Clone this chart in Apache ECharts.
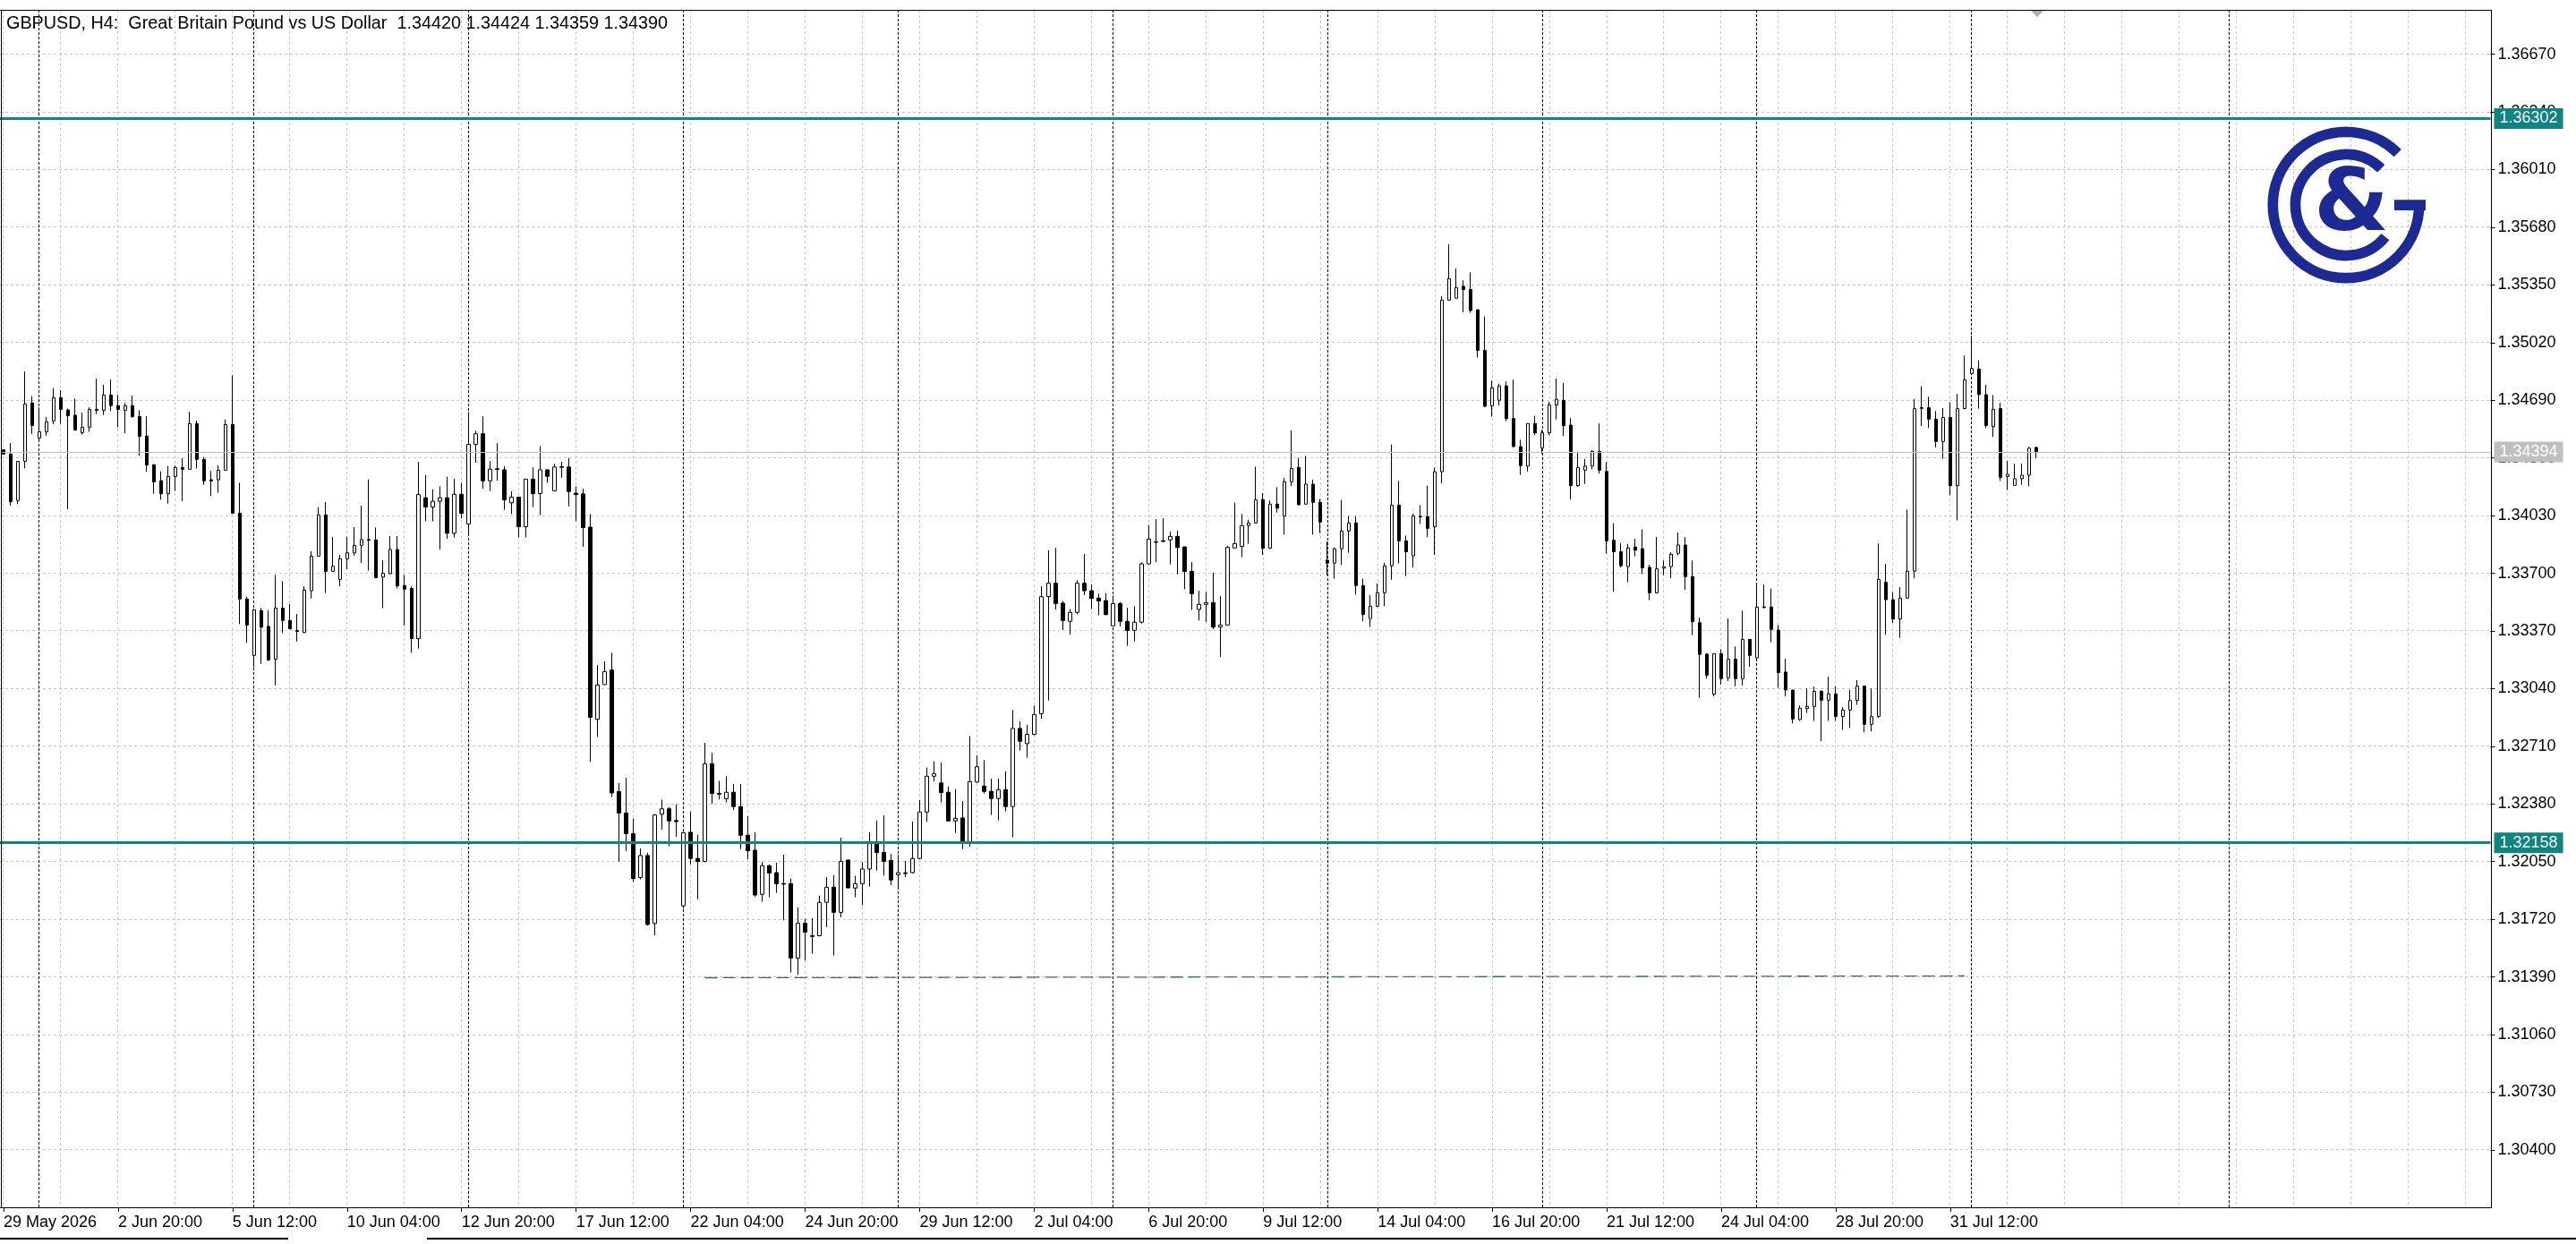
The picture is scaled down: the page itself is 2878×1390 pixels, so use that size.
<!DOCTYPE html>
<html><head><meta charset="utf-8">
<script src="https://cdn.jsdelivr.net/npm/echarts@6.0.0/dist/echarts.min.js"></script>
<style>html,body{margin:0;padding:0;background:#fff;}#chart{width:2878px;height:1390px;}</style>
</head><body><div id="chart"></div>
<script>
// ---- H4 candles (bar 0 = 29 May 2026 04:00) ----
const opens = [1.34406,1.34382,1.34116,1.34341,1.34674,1.34474,1.34510,1.34572,1.34705,1.34635,1.34604,1.34505,1.34536,1.34638,1.34633,1.34720,1.34659,1.34633,1.34659,1.34597,1.34485,1.34321,1.34230,1.34155,1.34254,1.34305,1.34295,1.34556,1.34352,1.34235,1.34235,1.34290,1.34551,1.34044,1.33553,1.33230,1.33486,1.33396,1.33208,1.33501,1.33430,1.33372,1.33361,1.33600,1.33798,1.34034,1.33711,1.33665,1.33783,1.33816,1.33860,1.33893,1.33891,1.33678,1.33698,1.33836,1.33630,1.33613,1.33326,1.34132,1.34079,1.34112,1.34132,1.33929,1.34152,1.33982,1.34438,1.34498,1.34229,1.34298,1.34292,1.34103,1.34136,1.33966,1.34239,1.34156,1.34292,1.34172,1.34310,1.34308,1.34158,1.34154,1.33964,1.32864,1.33063,1.33146,1.32451,1.32328,1.32210,1.31959,1.32085,1.31696,1.32321,1.32352,1.32285,1.31797,1.32218,1.32068,1.32051,1.32610,1.32441,1.32409,1.32447,1.32365,1.32201,1.32115,1.31863,1.32027,1.31987,1.31924,1.31924,1.31498,1.31697,1.31626,1.31626,1.31817,1.31904,1.31760,1.32059,1.31899,1.31923,1.32008,1.32153,1.32103,1.32056,1.31975,1.31986,1.31987,1.32068,1.32334,1.32539,1.32500,1.32447,1.32283,1.32300,1.32162,1.32505,1.32482,1.32452,1.32411,1.32462,1.32365,1.32812,1.32725,1.32778,1.32897,1.33566,1.33643,1.33529,1.33425,1.33476,1.33643,1.33600,1.33558,1.33544,1.33399,1.33527,1.33425,1.33373,1.33420,1.33754,1.33880,1.33886,1.33891,1.33911,1.33851,1.33711,1.33493,1.33522,1.33532,1.33392,1.33404,1.33845,1.33853,1.33973,1.33988,1.34121,1.33843,1.34096,1.34027,1.34224,1.34306,1.34096,1.34210,1.34106,1.33775,1.33758,1.33840,1.33942,1.33988,1.33630,1.33441,1.33512,1.33588,1.33743,1.34090,1.33886,1.33800,1.34026,1.34024,1.33966,1.34281,1.35263,1.35274,1.35342,1.35324,1.35208,1.34975,1.34658,1.34690,1.34772,1.34585,1.34425,1.34313,1.34557,1.34418,1.34503,1.34663,1.34690,1.34548,1.34201,1.34290,1.34313,1.34398,1.34283,1.33889,1.33823,1.33738,1.33850,1.33841,1.33734,1.33588,1.33729,1.33738,1.33814,1.33862,1.33681,1.33417,1.33237,1.33008,1.33239,1.33102,1.33208,1.33097,1.33322,1.33216,1.33508,1.33507,1.33375,1.33135,1.33032,1.32863,1.32926,1.32938,1.33025,1.32974,1.33010,1.32880,1.32918,1.32972,1.33054,1.32836,1.32880,1.33648,1.33549,1.33438,1.33558,1.33712,1.34647,1.34647,1.34582,1.34454,1.34591,1.34201,1.34642,1.34843,1.34869,1.34722,1.34539,1.34642,1.34254,1.34203,1.34241,1.34261,1.34420];
const highs = [1.34410,1.34444,1.34343,1.34855,1.34713,1.34649,1.34594,1.34760,1.34748,1.34642,1.34700,1.34620,1.34649,1.34814,1.34778,1.34809,1.34720,1.34676,1.34717,1.34633,1.34599,1.34324,1.34283,1.34314,1.34317,1.34358,1.34625,1.34573,1.34365,1.34287,1.34317,1.34580,1.34833,1.34218,1.33566,1.33498,1.33501,1.33488,1.33691,1.33655,1.33524,1.33467,1.33626,1.33826,1.34078,1.34107,1.33908,1.33805,1.33908,1.33964,1.34087,1.34237,1.33962,1.33775,1.33913,1.33913,1.33690,1.33624,1.34338,1.34261,1.34180,1.34197,1.34253,1.34241,1.34217,1.34622,1.34515,1.34598,1.34342,1.34444,1.34312,1.34168,1.34136,1.34241,1.34306,1.34427,1.34296,1.34326,1.34338,1.34359,1.34197,1.34184,1.34039,1.33174,1.33196,1.33245,1.32500,1.32530,1.32297,1.32125,1.32101,1.32321,1.32404,1.32362,1.32378,1.32220,1.32337,1.32204,1.32730,1.32674,1.32513,1.32539,1.32494,1.32494,1.32310,1.32218,1.32047,1.32034,1.32044,1.32090,1.31953,1.31788,1.31723,1.31726,1.31856,1.31962,1.31972,1.32187,1.32064,1.31969,1.32047,1.32218,1.32286,1.32315,1.32095,1.32088,1.32054,1.32279,1.32402,1.32588,1.32624,1.32617,1.32481,1.32465,1.32397,1.32768,1.32658,1.32631,1.32525,1.32525,1.32566,1.32918,1.32853,1.32832,1.32943,1.33626,1.33831,1.33845,1.33541,1.33495,1.33660,1.33810,1.33635,1.33583,1.33587,1.33573,1.33536,1.33503,1.33512,1.33763,1.33976,1.34010,1.34015,1.33938,1.33945,1.33851,1.33763,1.33600,1.33592,1.33703,1.33570,1.33857,1.34104,1.34039,1.34007,1.34309,1.34159,1.34116,1.34193,1.34246,1.34517,1.34360,1.34372,1.34236,1.34125,1.33882,1.33848,1.34119,1.34027,1.34027,1.33669,1.33574,1.33642,1.33761,1.34437,1.34229,1.33916,1.34040,1.34090,1.34201,1.34304,1.35286,1.35582,1.35443,1.35376,1.35422,1.35208,1.35169,1.34802,1.34785,1.34797,1.34808,1.34464,1.34557,1.34601,1.34521,1.34681,1.34815,1.34788,1.34589,1.34396,1.34354,1.34405,1.34557,1.34336,1.33987,1.33871,1.33868,1.33898,1.33951,1.33749,1.33907,1.33773,1.33820,1.33934,1.33907,1.33773,1.33446,1.33242,1.33242,1.33264,1.33442,1.33281,1.33486,1.33322,1.33635,1.33635,1.33612,1.33404,1.33211,1.33032,1.32943,1.33041,1.33051,1.33029,1.33109,1.33054,1.32935,1.33032,1.33088,1.33054,1.33041,1.33870,1.33754,1.33592,1.33621,1.34065,1.34696,1.34770,1.34710,1.34628,1.34645,1.34679,1.34727,1.34946,1.35060,1.34918,1.34778,1.34719,1.34676,1.34343,1.34326,1.34326,1.34423,1.34424];
const lows = [1.34379,1.34087,1.34095,1.34300,1.34497,1.34451,1.34488,1.34553,1.34556,1.34066,1.34519,1.34493,1.34510,1.34611,1.34606,1.34628,1.34536,1.34502,1.34590,1.34372,1.34280,1.34155,1.34121,1.34099,1.34171,1.34113,1.34295,1.34299,1.34206,1.34142,1.34160,1.34287,1.34044,1.33409,1.33302,1.33162,1.33182,1.33199,1.33059,1.33358,1.33379,1.33310,1.33358,1.33556,1.33795,1.33587,1.33711,1.33626,1.33723,1.33800,1.33759,1.33715,1.33674,1.33500,1.33694,1.33613,1.33401,1.33245,1.33269,1.33998,1.33998,1.33836,1.33897,1.33905,1.34014,1.33927,1.34332,1.34184,1.34170,1.34229,1.34063,1.34039,1.33907,1.33905,1.34079,1.34033,1.34217,1.34168,1.34245,1.34083,1.33998,1.33852,1.32621,1.32763,1.33063,1.32419,1.32050,1.32111,1.31933,1.31949,1.31684,1.31629,1.32232,1.32139,1.32192,1.31781,1.32035,1.31834,1.32047,1.32380,1.32406,1.32389,1.32344,1.32122,1.32064,1.31847,1.31820,1.31846,1.31871,1.31714,1.31416,1.31402,1.31484,1.31523,1.31622,1.31675,1.31513,1.31731,1.31897,1.31846,1.31800,1.31907,1.31999,1.31970,1.31916,1.31902,1.31962,1.31982,1.32064,1.32278,1.32508,1.32389,1.32283,1.32214,1.32122,1.32136,1.32501,1.32440,1.32317,1.32286,1.32337,1.32189,1.32686,1.32645,1.32773,1.32867,1.32972,1.33493,1.33375,1.33348,1.33464,1.33575,1.33495,1.33459,1.33459,1.33396,1.33396,1.33285,1.33310,1.33413,1.33751,1.33763,1.33879,1.33751,1.33694,1.33609,1.33490,1.33430,1.33421,1.33379,1.33222,1.33401,1.33843,1.33792,1.33869,1.33985,1.33805,1.33840,1.34048,1.33921,1.34198,1.34089,1.34092,1.33921,1.33930,1.33689,1.33669,1.33746,1.33817,1.33578,1.33425,1.33393,1.33506,1.33512,1.33663,1.33756,1.33684,1.33734,1.33983,1.33907,1.33805,1.34215,1.35261,1.35272,1.35194,1.35190,1.34934,1.34651,1.34596,1.34660,1.34571,1.34420,1.34263,1.34283,1.34491,1.34384,1.34491,1.34580,1.34485,1.34122,1.34194,1.34211,1.34295,1.34272,1.33814,1.33595,1.33734,1.33649,1.33797,1.33695,1.33547,1.33585,1.33690,1.33672,1.33802,1.33606,1.33346,1.32987,1.33097,1.32995,1.33063,1.33083,1.33054,1.33058,1.33165,1.33213,1.33498,1.33305,1.33046,1.32995,1.32841,1.32855,1.32901,1.32855,1.32739,1.32855,1.32855,1.32803,1.32815,1.32947,1.32790,1.32795,1.32872,1.33348,1.33416,1.33331,1.33554,1.33672,1.34543,1.34531,1.34420,1.34355,1.34147,1.34002,1.34638,1.34838,1.34642,1.34531,1.34480,1.34229,1.34177,1.34203,1.34207,1.34198,1.34359];
const closes = [1.34382,1.34109,1.34340,1.34669,1.34546,1.34510,1.34567,1.34705,1.34638,1.34602,1.34520,1.34536,1.34638,1.34633,1.34720,1.34659,1.34638,1.34659,1.34597,1.34483,1.34319,1.34223,1.34155,1.34254,1.34305,1.34295,1.34556,1.34352,1.34229,1.34229,1.34290,1.34551,1.34044,1.33553,1.33404,1.33491,1.33392,1.33204,1.33501,1.33430,1.33382,1.33367,1.33604,1.33798,1.34034,1.33711,1.33740,1.33783,1.33817,1.33860,1.33893,1.33889,1.33674,1.33700,1.33836,1.33628,1.33609,1.33326,1.34150,1.34079,1.34112,1.34132,1.33929,1.34152,1.34043,1.34438,1.34498,1.34229,1.34296,1.34294,1.34120,1.34136,1.33966,1.34239,1.34156,1.34292,1.34255,1.34308,1.34306,1.34168,1.34150,1.33962,1.32876,1.33061,1.33137,1.32443,1.32328,1.32210,1.31953,1.32085,1.31690,1.32317,1.32352,1.32283,1.32279,1.32216,1.32068,1.32051,1.32610,1.32440,1.32436,1.32447,1.32365,1.32201,1.32112,1.31859,1.32027,1.31984,1.31923,1.31921,1.31498,1.31697,1.31646,1.31622,1.31817,1.31904,1.31760,1.32052,1.31900,1.31923,1.32008,1.32153,1.32102,1.32052,1.31945,1.31987,1.31982,1.32068,1.32334,1.32539,1.32554,1.32445,1.32283,1.32298,1.32162,1.32508,1.32593,1.32452,1.32411,1.32462,1.32365,1.32812,1.32739,1.32778,1.32892,1.33566,1.33643,1.33527,1.33430,1.33476,1.33643,1.33600,1.33556,1.33541,1.33464,1.33527,1.33425,1.33373,1.33420,1.33754,1.33896,1.33877,1.33882,1.33911,1.33848,1.33710,1.33583,1.33522,1.33532,1.33392,1.33404,1.33848,1.33870,1.33973,1.33988,1.34121,1.33843,1.34096,1.34073,1.34224,1.34300,1.34092,1.34210,1.34106,1.33993,1.33758,1.33840,1.33942,1.33988,1.33630,1.33464,1.33512,1.33588,1.33743,1.34090,1.33886,1.33823,1.34028,1.34023,1.33957,1.34281,1.35263,1.35386,1.35335,1.35324,1.35203,1.34975,1.34655,1.34761,1.34772,1.34585,1.34425,1.34316,1.34557,1.34503,1.34503,1.34663,1.34696,1.34544,1.34201,1.34304,1.34313,1.34398,1.34290,1.33886,1.33823,1.33743,1.33845,1.33832,1.33731,1.33588,1.33725,1.33738,1.33809,1.33862,1.33681,1.33423,1.33236,1.33117,1.33239,1.33097,1.33208,1.33097,1.33322,1.33230,1.33507,1.33505,1.33379,1.33131,1.33032,1.32866,1.32928,1.32938,1.33025,1.32974,1.33010,1.32880,1.32918,1.32972,1.33054,1.32836,1.32880,1.33665,1.33549,1.33438,1.33558,1.33712,1.34642,1.34644,1.34582,1.34454,1.34591,1.34201,1.34642,1.34807,1.34872,1.34722,1.34545,1.34638,1.34249,1.34266,1.34241,1.34261,1.34416,1.34390];

// ---- axis texts ----
const priceTicks = [1.36670,1.36340,1.36010,1.35680,1.35350,1.35020,1.34690,1.34360,1.34030,1.33700,1.33370,1.33040,1.32710,1.32380,1.32050,1.31720,1.31390,1.31060,1.30730,1.30400];
const timeLabels = ['29 May 2026','2 Jun 20:00','5 Jun 12:00','10 Jun 04:00','12 Jun 20:00','17 Jun 12:00','22 Jun 04:00','24 Jun 20:00','29 Jun 12:00','2 Jul 04:00','6 Jul 20:00','9 Jul 12:00','14 Jul 04:00','16 Jul 20:00','21 Jul 12:00','24 Jul 04:00','28 Jul 20:00','31 Jul 12:00'];
const titleText = 'GBPUSD, H4:  Great Britain Pound vs US Dollar  1.34420 1.34424 1.34359 1.34390';

// ---- drawn levels ----
const levelLines = [1.36302, 1.32158];
const bidPrice = 1.34394;
const trendStart = [98, 1.31387];
const trendEnd = [274, 1.31395];
const weekStartBars = [5,35,65,95,125,155,185,215,245,275,311];

// ---- layout constants ----
const N_SLOTS = 348;        // 285 bars + empty chart shift area
const LABEL_EVERY = 16;
const GRID_EVERY = 8;
const YMIN = 1.300668, YMAX = 1.369240;
const TEAL = '#0e8580', NAVY = '#1e2a94', GRIDC = '#c8c8c8';
const FONT = 'Liberation Sans';

const cats = Array.from({length: N_SLOTS}, (_, i) => String(i));
const candles = opens.map((o, i) => [o, closes[i], lows[i], highs[i]]);
const gridBars = [];
for (let b = 0; b < N_SLOTS; b += GRID_EVERY) gridBars.push(b);

function crisp(v) { return Math.round(v - 0.5) + 0.5; }

function hLineItem(color, dash) {
  return function (params, api) {
    const cs = params.coordSys;
    const y = crisp(api.coord([0, api.value(1)])[1]);
    return {type: 'line', shape: {x1: cs.x, y1: y, x2: cs.x + cs.width, y2: y},
      style: {stroke: color, lineWidth: 1, lineDash: dash}};
  };
}
function vLineItem(color, dash) {
  return function (params, api) {
    const cs = params.coordSys;
    const x = crisp(api.coord([api.value(0), YMIN])[0]);
    return {type: 'line', shape: {x1: x, y1: cs.y, x2: x, y2: cs.y + cs.height},
      style: {stroke: color, lineWidth: 1, lineDash: dash}};
  };
}
function trendItem(params, api) {
  const a = api.coord([api.value(0), api.value(1)]);
  const b = api.coord([api.value(2), api.value(3)]);
  return {type: 'line', shape: {x1: a[0], y1: crisp(a[1]), x2: b[0], y2: crisp(b[1])},
    style: {stroke: '#2f7a3c', lineWidth: 1.3, lineDash: [14, 6]}};
}

const chart = echarts.init(document.getElementById('chart'), null, {renderer: 'canvas'});
const boxLabel = (bg) => ({show: true, position: 'end', distance: 4,
  formatter: p => Number(p.value).toFixed(5), color: '#fff', backgroundColor: bg,
  padding: [3, 6, 2, 6], fontFamily: FONT, fontSize: 18});

chart.setOption({
  animation: false,
  backgroundColor: '#ffffff',
  grid: {left: -1.5, top: 11, width: N_SLOTS * 8, height: 1339, show: false},
  xAxis: {
    type: 'category', data: cats, boundaryGap: true,
    axisLine: {show: false},
    axisTick: {show: true, alignWithLabel: true, length: 4, lineStyle: {color: '#000'},
      interval: (i) => i % LABEL_EVERY === 0 && i / LABEL_EVERY < timeLabels.length},
    axisLabel: {show: true, align: 'left', margin: 7, color: '#000', fontFamily: FONT, fontSize: 18,
      showMinLabel: true,
      interval: (i) => i % LABEL_EVERY === 0 && i / LABEL_EVERY < timeLabels.length,
      formatter: (v, i) => timeLabels[i / LABEL_EVERY] || ''},
    splitLine: {show: false}
  },
  yAxis: {
    type: 'value', position: 'right', min: YMIN, max: YMAX,
    axisLine: {show: false}, splitLine: {show: false},
    axisTick: {show: true, length: 5, lineStyle: {color: '#000'}, customValues: priceTicks},
    axisLabel: {show: true, customValues: priceTicks, margin: 8, color: '#000', fontFamily: FONT, fontSize: 18,
      formatter: v => v.toFixed(5)}
  },
  series: [
    {type: 'custom', name: 'hgrid', z: 1, silent: true, renderItem: hLineItem(GRIDC, [3, 3]),
      data: priceTicks.map(p => [0, p]), encode: {x: 0, y: 1}},
    {type: 'custom', name: 'vgrid', z: 1, silent: true, renderItem: vLineItem(GRIDC, [3, 3]),
      data: gridBars.map(b => [b, YMIN]), encode: {x: 0, y: 1}},
    {type: 'custom', name: 'weeks', z: 1, silent: true, renderItem: vLineItem('#000', [3, 2]),
      data: weekStartBars.map(b => [b, YMIN]), encode: {x: 0, y: 1}},
    {type: 'custom', name: 'trend', z: 4, silent: true, renderItem: trendItem,
      data: [[trendStart[0], trendStart[1], trendEnd[0], trendEnd[1]]], encode: {x: [0, 2], y: [1, 3]}},
    {type: 'candlestick', name: 'GBPUSD', z: 3, silent: true, barWidth: 4, data: candles,
      itemStyle: {color: '#ffffff', color0: '#000000', borderColor: '#000000', borderColor0: '#000000',
        borderColorDoji: '#000000', borderWidth: 1},
      emphasis: {disabled: true},
      markLine: {
        symbol: ['none', 'none'], silent: true, animation: false, precision: 5,
        data: [
          {yAxis: bidPrice, lineStyle: {color: '#c0c0c0', width: 1, type: 'solid'}, label: boxLabel('#c0c0c0')},
          {yAxis: levelLines[0], lineStyle: {color: TEAL, width: 3, type: 'solid'}, label: boxLabel(TEAL)},
          {yAxis: levelLines[1], lineStyle: {color: TEAL, width: 3, type: 'solid'}, label: boxLabel(TEAL)}
        ]
      }
    }
  ],
  graphic: [
    // frame
    {type: 'line', z: 10, shape: {x1: 0, y1: 11.5, x2: 2784, y2: 11.5}, style: {stroke: '#000', lineWidth: 1}},
    {type: 'line', z: 10, shape: {x1: 1.5, y1: 11, x2: 1.5, y2: 1350}, style: {stroke: '#000', lineWidth: 1}},
    {type: 'line', z: 10, shape: {x1: 2783.5, y1: 11, x2: 2783.5, y2: 1350}, style: {stroke: '#000', lineWidth: 1}},
    {type: 'line', z: 10, shape: {x1: 0, y1: 1349.5, x2: 2784, y2: 1349.5}, style: {stroke: '#000', lineWidth: 1}},
    // window bottom line
    {type: 'line', z: 10, shape: {x1: 0, y1: 1384, x2: 322, y2: 1384}, style: {stroke: '#000', lineWidth: 2}},
    {type: 'line', z: 10, shape: {x1: 477, y1: 1384, x2: 2878, y2: 1384}, style: {stroke: '#000', lineWidth: 2}},
    // chart shift marker
    {type: 'polygon', z: 10, shape: {points: [[2269, 12], [2283, 12], [2276, 19]]}, style: {fill: '#b0b0b0'}},
    // title
    {type: 'text', z: 10, style: {text: titleText, x: 7, y: 27, font: '19.8px "Liberation Sans"', fill: '#000',
      align: 'left', verticalAlign: 'middle'}},
    // logo
    {type: 'arc', z: 10, shape: {cx: 2621, cy: 229, r: 81.7, startAngle: 0, endAngle: 7 * Math.PI / 4, clockwise: true},
      style: {stroke: NAVY, lineWidth: 11.7, fill: null}},
    {type: 'arc', z: 10, shape: {cx: 2621, cy: 229, r: 56.5, startAngle: 39 * Math.PI / 180, endAngle: 314 * Math.PI / 180, clockwise: true},
      style: {stroke: NAVY, lineWidth: 11.7, fill: null}},
    {type: 'rect', z: 10, shape: {x: 2675, y: 223.2, width: 35, height: 11.7}, style: {fill: NAVY}},
    {type: 'text', z: 10, style: {text: '&', x: 2627, y: 232, font: 'bold 96px "DejaVu Sans"',
      fill: NAVY, align: 'center', verticalAlign: 'middle'}}
  ]
});
</script></body></html>
